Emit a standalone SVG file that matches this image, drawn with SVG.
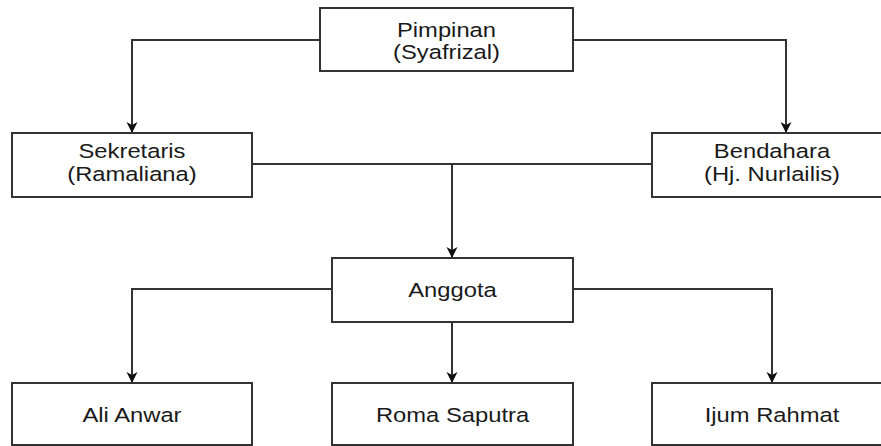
<svg xmlns="http://www.w3.org/2000/svg" width="881" height="446" viewBox="0 0 881 446">
<style>
.box{fill:#fff;stroke:#333;stroke-width:2}
.t{font-family:"Liberation Sans",Arial,sans-serif;font-size:20.5px;fill:#1a1a1a;text-anchor:middle}
.c{fill:none;stroke:#333;stroke-width:2}
</style>
<defs>
<marker id="ah" markerWidth="14" markerHeight="14" refX="12" refY="7" orient="auto" markerUnits="userSpaceOnUse">
<path d="M2,1.5 L13,7 L2,12.5 L5,7 Z" fill="#111"/>
</marker>
</defs>
<rect width="881" height="446" fill="#fff"/>
<g id="connectors">
<path class="c" d="M320,40 H132 V132" marker-end="url(#ah)"/>
<path class="c" d="M573,40 H786 V132" marker-end="url(#ah)"/>
<path class="c" d="M252,164 H652"/>
<path class="c" d="M452,164 V257" marker-end="url(#ah)"/>
<path class="c" d="M332,289 H132 V382" marker-end="url(#ah)"/>
<path class="c" d="M452,322 V382" marker-end="url(#ah)"/>
<path class="c" d="M573,289 H772 V382" marker-end="url(#ah)"/>
</g>
<g id="pimpinan">
<rect class="box" x="320" y="8" width="253" height="63"/>
<text class="t" transform="translate(446.5,37) scale(1.16,1)">Pimpinan</text>
<text class="t" transform="translate(446.5,59) scale(1.16,1)">(Syafrizal)</text>
</g>
<g id="sekretaris">
<rect class="box" x="12" y="133" width="240" height="64"/>
<text class="t" transform="translate(132,158) scale(1.16,1)">Sekretaris</text>
<text class="t" transform="translate(132,181) scale(1.16,1)">(Ramaliana)</text>
</g>
<g id="bendahara">
<rect class="box" x="652" y="133" width="240" height="64"/>
<text class="t" transform="translate(772,158) scale(1.16,1)">Bendahara</text>
<text class="t" transform="translate(772,181) scale(1.16,1)">(Hj. Nurlailis)</text>
</g>
<g id="anggota">
<rect class="box" x="332" y="258" width="241" height="64"/>
<text class="t" transform="translate(452.5,297) scale(1.16,1)">Anggota</text>
</g>
<g id="ali">
<rect class="box" x="12" y="383" width="240" height="62"/>
<text class="t" transform="translate(132,422) scale(1.16,1)">Ali Anwar</text>
</g>
<g id="roma">
<rect class="box" x="332" y="383" width="241" height="62"/>
<text class="t" transform="translate(452.5,422) scale(1.16,1)">Roma Saputra</text>
</g>
<g id="ijum">
<rect class="box" x="652" y="383" width="240" height="62"/>
<text class="t" transform="translate(772,422) scale(1.16,1)">Ijum Rahmat</text>
</g>
</svg>
